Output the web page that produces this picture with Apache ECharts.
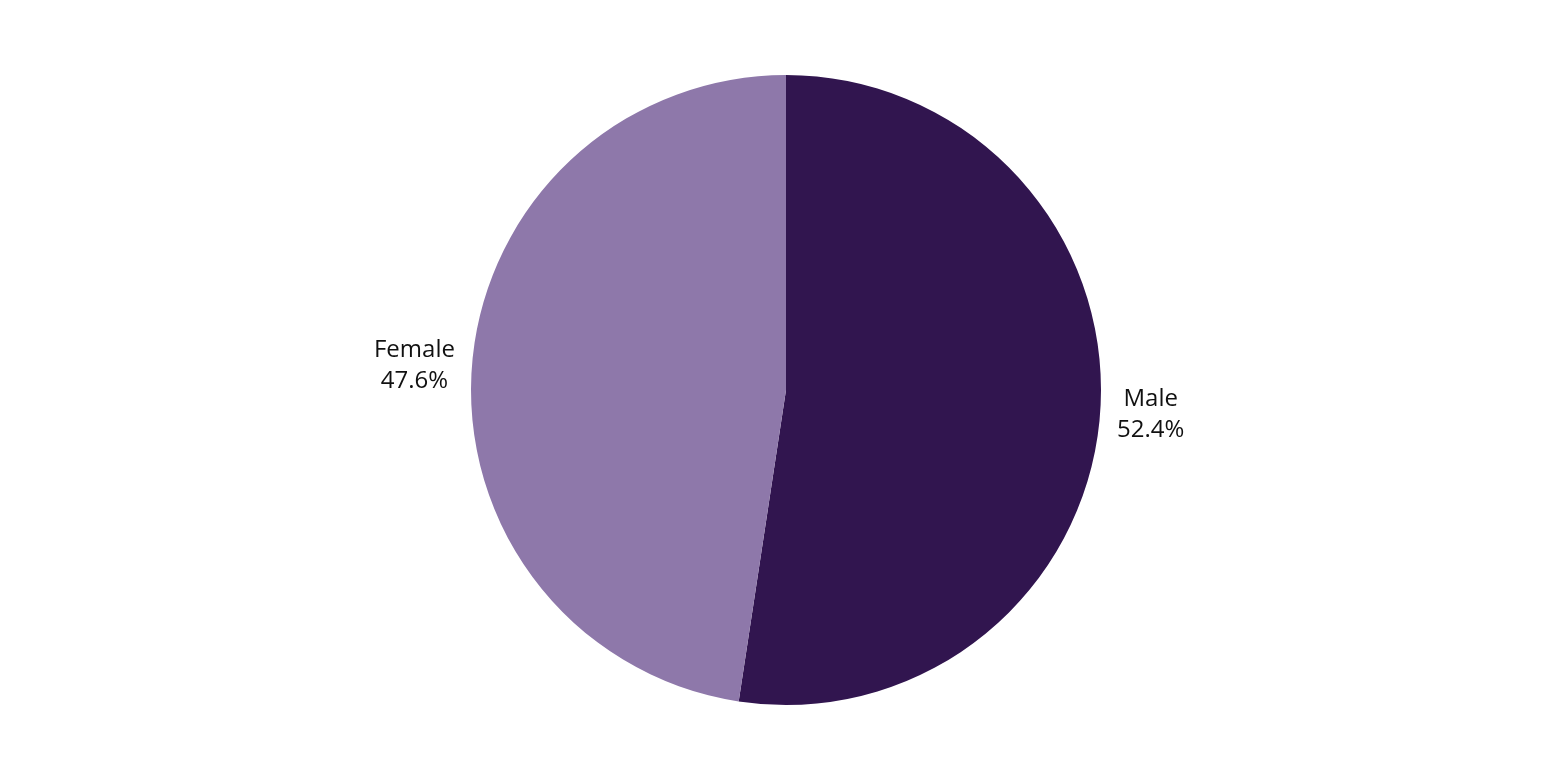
<!DOCTYPE html>
<html><head><meta charset="utf-8">
<script src="https://cdn.jsdelivr.net/npm/echarts@6/dist/echarts.min.js"></script>
<style>html,body{margin:0;padding:0;background:#fff}#c{width:1561px;height:781px}</style>
</head><body><div id="c"></div>
<script>
const categories = ["Male", "Female"];
const values = [52.4, 47.6];
const colors = ["#31154f", "#8e78aa"];

const chart = echarts.init(document.getElementById('c'));
chart.setOption({
  animation: false,
  series: [{
    type: 'pie',
    center: [786, 390],
    radius: [0, 315],
    startAngle: 90,
    clockwise: true,
    data: categories.map((c, i) => ({name: c, value: values[i], itemStyle: {color: colors[i]}})),
    label: {
      show: true,
      position: 'outside',
      formatter: p => '{a|' + p.name + '}\n{a|' + p.value.toFixed(1) + '%}',
      rich: { a: { fontFamily: 'Open Sans', fontSize: 24, color: '#111', lineHeight: 31, align: 'center' } },
      fontFamily: 'Open Sans', fontSize: 24, color: '#111', lineHeight: 31
    },
    labelLine: { show: false, length: 12, length2: 0 },
    emphasis: { disabled: true }
  }]
});
</script></body></html>
